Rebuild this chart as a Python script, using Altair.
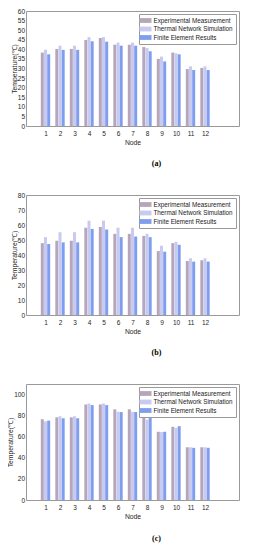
import altair as alt
import pandas as pd

nodes = list(range(1, 13))
series = ["Experimental Measurement", "Thermal Network Simulation", "Finite Element Results"]
colors = ["#b6a6bb", "#c8caf0", "#7f9ef0"]

a_exp = [38.3, 40.2, 40.2, 44.9, 45.9, 42.4, 42.4, 41.2, 35.0, 38.3, 29.7, 30.3]
a_thm = [39.8, 41.9, 41.9, 46.4, 46.4, 43.5, 43.5, 40.7, 36.2, 37.9, 31.1, 31.1]
a_fe = [37.4, 39.7, 39.7, 44.2, 44.0, 41.9, 41.9, 39.0, 33.7, 37.4, 29.2, 29.2]

b_exp = [47.9, 49.5, 49.5, 58.2, 58.7, 54.1, 54.1, 52.7, 42.6, 47.9, 36.0, 36.5]
b_thm = [51.9, 55.2, 55.2, 62.9, 62.9, 58.2, 58.2, 54.1, 46.2, 48.8, 37.8, 37.8]
b_fe = [47.3, 48.4, 48.4, 57.4, 57.0, 51.9, 52.3, 51.9, 42.2, 46.8, 35.6, 35.6]

c_exp = [76.6, 78.4, 78.4, 90.6, 90.6, 86.0, 86.0, 81.0, 64.7, 69.4, 50.0, 50.0]
c_thm = [74.7, 79.4, 79.4, 91.5, 91.5, 83.7, 83.7, 76.2, 64.4, 68.4, 50.0, 50.0]
c_fe = [75.3, 77.5, 77.5, 90.0, 90.0, 83.4, 83.4, 79.4, 64.7, 70.0, 49.5, 49.5]

FONT = "Liberation Sans"
offset_expr = ("datum.Node + (datum.Series == '%s' ? -0.22 : (datum.Series == '%s' ? 0.22 : 0))"
               % (series[0], series[2]))


def make_df(e, t, f):
    rows = []
    for vals, s in zip([e, t, f], series):
        for n, v in zip(nodes, vals):
            rows.append({"Node": n, "Series": s, "Temp": v})
    return pd.DataFrame(rows)


def panel(df, ymax, yvals, height, caption, cap_offset):
    return alt.Chart(df).transform_calculate(pos=offset_expr).mark_bar(size=3).encode(
        x=alt.X("pos:Q", scale=alt.Scale(domain=[0, 14], nice=False),
                axis=alt.Axis(values=nodes, title="Node", grid=False, ticks=False,
                              domain=False, labelPadding=4, titlePadding=3)),
        y=alt.Y("Temp:Q", scale=alt.Scale(domain=[0, ymax], nice=False),
                axis=alt.Axis(values=yvals, title="Temperature(℃)", grid=False, ticks=False,
                              domain=False, labelPadding=1.5, titlePadding=0)),
        color=alt.Color("Series:N", scale=alt.Scale(domain=series, range=colors),
                        legend=alt.Legend(title=None, orient="top-right", offset=3,
                                          symbolType="M-1.5,-0.6H1.5V0.6H-1.5Z", symbolSize=64,
                                          symbolStrokeWidth=0, symbolOpacity=1,
                                          labelFontSize=6.3, labelFont=FONT, labelColor="#222",
                                          rowPadding=0.5, padding=2.5, strokeColor="#999",
                                          fillColor="white", labelOffset=4)),
    ).properties(
        width=213, height=height,
        title=alt.TitleParams(text=caption, orient="bottom", anchor="middle", dx=24,
                              offset=cap_offset, font="Liberation Serif", fontWeight="bold",
                              fontSize=8, color="black"),
    )


pa = panel(make_df(a_exp, a_thm, a_fe), 60, list(range(0, 61, 5)), 115, "(a)", 14)
pb = panel(make_df(b_exp, b_thm, b_fe), 80, list(range(0, 81, 10)), 120, "(b)", 14)
pc = panel(make_df(c_exp, c_thm, c_fe), 110, list(range(0, 101, 20)), 116, "(c)", 15)

top = alt.vconcat(pa, pb, spacing=22).resolve_legend(color="independent")
chart = alt.vconcat(top, pc, spacing=25).resolve_legend(color="independent").properties(
    padding={"left": -1, "top": -1, "right": 0, "bottom": 0}
).configure_view(stroke="#9a9a9a", strokeWidth=1).configure_axis(
    labelFont=FONT, titleFont=FONT, labelFontSize=6.5, titleFontSize=6.8,
    labelColor="#262626", titleColor="#262626", titleFontWeight="normal"
)

chart.save("out.html", embed_options={"renderer": "svg", "actions": False})
